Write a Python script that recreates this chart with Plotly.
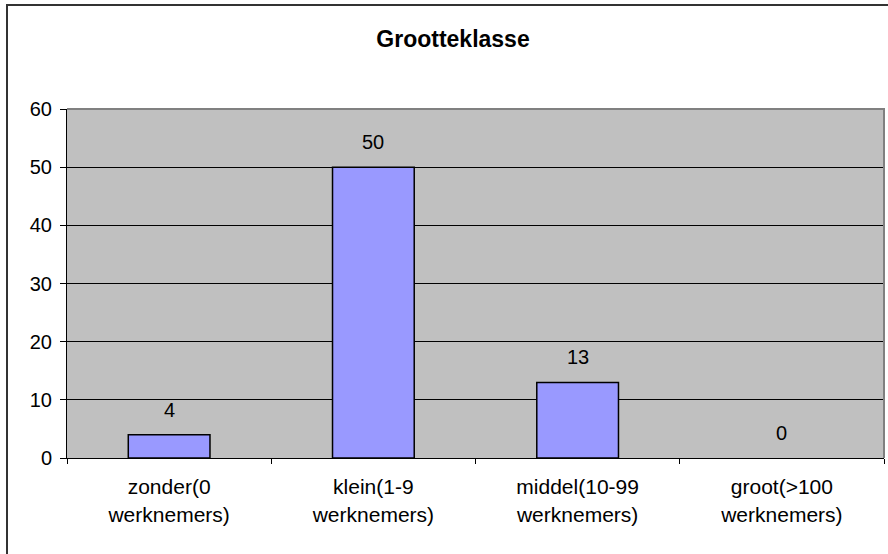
import plotly.graph_objects as go

# Grootteklasse van bedrijven (aantal)
categories = ["zonder(0<br>werknemers)", "klein(1-9<br>werknemers)",
              "middel(10-99<br>werknemers)", "groot(>100<br>werknemers)"]
values = [4, 50, 13, 0]
y_ticks = [0, 10, 20, 30, 40, 50, 60]

FONT = "Liberation Sans, Arial, sans-serif"

fig = go.Figure()
fig.add_trace(go.Bar(
    x=categories,
    y=values,
    width=0.4,
    marker=dict(color="#9999FF",
                line=dict(color="#000000",
                          width=[1.5 if v > 0 else 0 for v in values])),
    hoverinfo="skip",
))

# value labels above each bar
for cat, val in zip(categories, values):
    fig.add_annotation(
        x=cat, y=val, text=str(val), showarrow=False,
        yanchor="middle", yshift=25,
        font=dict(family=FONT, size=20, color="#000000"),
    )

# plot area frame (top and right edges)
fig.add_shape(type="path", xref="paper", yref="paper",
              path="M 0 1 L 1 1 L 1 0", layer="above",
              line=dict(color="#808080", width=2))

# chart border
fig.add_shape(type="rect", xref="paper", yref="paper",
              x0=-60 / 817, x1=1.2, y0=-0.5, y1=1 + 104 / 349,
              line=dict(color="#333333", width=2), layer="below")

fig.update_layout(
    width=888, height=554,
    margin=dict(l=67, r=4, t=109, b=96),
    paper_bgcolor="#FFFFFF",
    plot_bgcolor="#C0C0C0",
    showlegend=False,
    bargap=0.6,
    title=dict(text="<b>Grootteklasse</b>", xref="container", yref="container",
               x=453 / 888, y=1 - 39 / 554, xanchor="center", yanchor="middle",
               font=dict(family=FONT, size=23, color="#000000")),
    font=dict(family=FONT, size=20, color="#000000"),
)

fig.update_xaxes(
    type="category",
    showline=True, linecolor="#000000", linewidth=1,
    ticks="outside", tickson="boundaries", ticklen=5, tickcolor="#000000",
    showgrid=False,
    tickfont=dict(family=FONT, size=21, color="#000000"),
    ticklabelstandoff=10,
)
fig.update_yaxes(
    range=[0, 60], tickvals=y_ticks,
    showline=True, linecolor="#000000", linewidth=1,
    ticks="outside", ticklen=6, tickcolor="#000000",
    showgrid=True, gridcolor="#000000", gridwidth=1,
    zeroline=False,
    tickfont=dict(family=FONT, size=20, color="#000000"),
    ticklabelstandoff=4,
)

fig.write_html("out.html")
